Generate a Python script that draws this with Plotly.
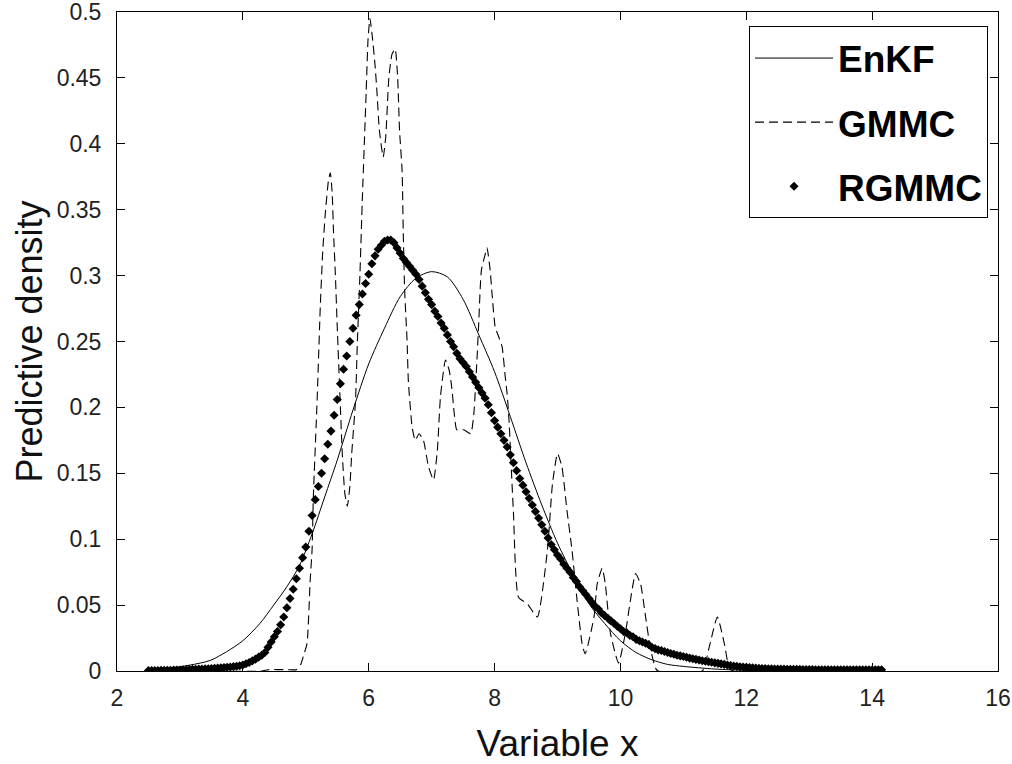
import numpy as np
import plotly.graph_objects as go

# ---------------- data ----------------
enkf_x = [2.5, 2.8, 3.16, 3.48, 3.74, 4.0, 4.27, 4.49, 4.7, 4.9, 5.1, 5.3, 5.5,
          5.75, 6.0, 6.25, 6.5, 6.75, 7.0, 7.25, 7.5, 7.75, 8.0, 8.25, 8.5,
          8.75, 9.0, 9.25, 9.5, 9.75, 10.0, 10.25, 10.5, 10.75, 11.0, 11.5,
          12.0, 12.5, 13.0]
enkf_y = [0.001, 0.002, 0.0045, 0.008, 0.0146, 0.023, 0.036, 0.050, 0.064,
          0.080, 0.104, 0.132, 0.160, 0.198, 0.233, 0.260, 0.284, 0.298,
          0.303, 0.299, 0.282, 0.255, 0.227, 0.193, 0.158, 0.126, 0.097,
          0.073, 0.051, 0.036, 0.023, 0.014, 0.0085, 0.005, 0.0035, 0.0015,
          0.0005, 0.0002, 0.0]

gmmc_x = [2.5, 4.3, 4.4, 4.7, 4.85, 4.92, 4.96, 5.02, 5.07, 5.10, 5.12, 5.18,
          5.23, 5.27, 5.31, 5.36, 5.39, 5.42, 5.44, 5.47, 5.50, 5.55, 5.58,
          5.62, 5.66, 5.70, 5.73, 5.79, 5.82, 5.86, 5.90, 5.93, 5.96, 5.99,
          6.02, 6.06, 6.10, 6.13, 6.17, 6.23, 6.27, 6.32, 6.37, 6.42, 6.46,
          6.49, 6.53, 6.55, 6.57, 6.61, 6.63, 6.69, 6.74, 6.80, 6.87, 6.95,
          7.03, 7.09, 7.14, 7.22, 7.28, 7.32, 7.36, 7.40, 7.51, 7.62, 7.67,
          7.72, 7.75, 7.79, 7.85, 7.88, 7.93, 7.96, 8.01, 8.07, 8.12, 8.17,
          8.20, 8.23, 8.25, 8.30, 8.38, 8.52, 8.68, 8.84, 8.92, 9.00, 9.07,
          9.15, 9.23, 9.31, 9.39, 9.44, 9.58, 9.63, 9.71, 9.76, 9.84, 9.97,
          10.08, 10.16, 10.24, 10.32, 10.40, 10.48, 10.56, 10.60, 11.30,
          11.41, 11.54, 11.65, 11.73, 11.80, 14.15]
gmmc_y = [0.0, 0.0, 0.001, 0.001, 0.001, 0.005, 0.011, 0.021, 0.069, 0.092,
          0.132, 0.205, 0.276, 0.319, 0.347, 0.372, 0.378, 0.362, 0.334,
          0.301, 0.261, 0.200, 0.165, 0.135, 0.125, 0.140, 0.165, 0.205,
          0.250, 0.300, 0.360, 0.400, 0.440, 0.480, 0.495, 0.480, 0.460,
          0.440, 0.410, 0.390, 0.405, 0.450, 0.468, 0.472, 0.450, 0.410,
          0.380, 0.330, 0.290, 0.250, 0.220, 0.185, 0.175, 0.180, 0.175,
          0.155, 0.145, 0.167, 0.208, 0.236, 0.228, 0.215, 0.195, 0.183,
          0.183, 0.180, 0.195, 0.236, 0.266, 0.304, 0.316, 0.321, 0.304,
          0.286, 0.261, 0.253, 0.246, 0.223, 0.210, 0.190, 0.170, 0.120,
          0.056, 0.051, 0.041, 0.092, 0.142, 0.165, 0.155, 0.122, 0.092,
          0.054, 0.021, 0.013, 0.041, 0.066, 0.078, 0.066, 0.029, 0.006,
          0.029, 0.054, 0.074, 0.066, 0.041, 0.016, 0.002, 0.0, 0.0, 0.018,
          0.041, 0.021, 0.002, 0.0, 0.0]

# RGMMC evaluated on a 0.05 grid from 2.50 to 14.15
rgmmc_x0, rgmmc_dx = 2.5, 0.05
rgmmc_y = [
    0.0003, 0.0003, 0.0004, 0.0004, 0.0005, 0.0005, 0.0006, 0.0006, 0.0007, 0.0007,
    0.0008, 0.0009, 0.0010, 0.0011, 0.0012, 0.0013, 0.0014, 0.0015, 0.0016, 0.0017,
    0.0018, 0.0020, 0.0022, 0.0024, 0.0026, 0.0028, 0.0030, 0.0033, 0.0036, 0.0040,
    0.0045, 0.0055, 0.0065, 0.0077, 0.0090, 0.0105, 0.0120, 0.0140, 0.0180, 0.0220,
    0.026, 0.030, 0.035, 0.041, 0.048, 0.055, 0.062, 0.070, 0.078, 0.086,
    0.094, 0.106, 0.118, 0.130, 0.140, 0.150, 0.161, 0.172, 0.182, 0.194,
    0.206, 0.218, 0.229, 0.239, 0.250, 0.260, 0.270, 0.278, 0.286, 0.294,
    0.301, 0.309, 0.315, 0.320, 0.323, 0.326, 0.327, 0.327, 0.325, 0.321,
    0.317, 0.313, 0.310, 0.307, 0.304, 0.301, 0.297, 0.292, 0.287, 0.282,
    0.278, 0.273, 0.269, 0.264, 0.260, 0.255, 0.250, 0.246, 0.241, 0.237,
    0.234, 0.231, 0.227, 0.223, 0.219, 0.215, 0.211, 0.207, 0.202, 0.196,
    0.190, 0.185, 0.180, 0.175, 0.170, 0.164, 0.158, 0.152, 0.146, 0.141,
    0.136, 0.131, 0.126, 0.121, 0.116, 0.111, 0.106, 0.101, 0.096, 0.092,
    0.088, 0.085, 0.081, 0.078, 0.075, 0.071, 0.068, 0.064, 0.061, 0.058,
    0.055, 0.052, 0.049, 0.047, 0.044, 0.042, 0.040, 0.038, 0.036, 0.034,
    0.032, 0.030, 0.029, 0.027, 0.026, 0.024, 0.023, 0.022, 0.021, 0.020,
    0.018, 0.017, 0.016, 0.0155, 0.0148, 0.014, 0.0133, 0.0127, 0.012, 0.0115,
    0.011, 0.0104, 0.0098, 0.0093, 0.0088, 0.0083, 0.0078, 0.0074, 0.0070, 0.0066,
    0.0062, 0.0058, 0.0054, 0.0050, 0.0046, 0.0042, 0.0038, 0.0035, 0.0032, 0.0030,
    0.0028, 0.0026, 0.0024, 0.0022, 0.0020, 0.0019, 0.0018, 0.0017, 0.0016, 0.0015,
    0.0015, 0.0014, 0.0014, 0.0013, 0.0013, 0.0012, 0.0012, 0.0012, 0.0011, 0.0011,
    0.0011, 0.0011, 0.0010, 0.0010, 0.0010, 0.0010, 0.0010, 0.0010, 0.0009, 0.0009,
    0.0009, 0.0009, 0.0009, 0.0009, 0.0009, 0.0009, 0.0009, 0.0009, 0.0009, 0.0009,
    0.0009, 0.0009, 0.0009, 0.0009,
]
rgmmc_x = [round(rgmmc_x0 + i * rgmmc_dx, 2) for i in range(len(rgmmc_y))]

series_names = ["EnKF", "GMMC", "RGMMC"]
x_ticks = [2, 4, 6, 8, 10, 12, 14, 16]
y_ticks = [0, 0.05, 0.1, 0.15, 0.2, 0.25, 0.3, 0.35, 0.4, 0.45, 0.5]
y_tick_text = ["0", "0.05", "0.1", "0.15", "0.2", "0.25", "0.3", "0.35", "0.4", "0.45", "0.5"]

FONT = "Liberation Sans, Arial, sans-serif"

# ---------------- figure ----------------
fig = go.Figure()
fig.add_trace(go.Scatter(
    x=enkf_x, y=enkf_y, mode="lines", name=series_names[0], legendgroup="a",
    line=dict(color="black", width=1, shape="spline", smoothing=0.8)))
fig.add_trace(go.Scatter(
    x=gmmc_x, y=gmmc_y, mode="lines", name=series_names[1], legendgroup="b",
    line=dict(color="black", width=1.1, dash="9px,5px", shape="spline", smoothing=0.5)))
fig.add_trace(go.Scatter(
    x=rgmmc_x, y=rgmmc_y, mode="markers", name=series_names[2], legendgroup="c",
    marker=dict(symbol="diamond", size=7, color="black",
                line=dict(width=0))))

axis_common = dict(
    showline=True, linecolor="black", linewidth=1, mirror="ticks",
    ticks="inside", ticklen=8, tickcolor="black", tickwidth=1,
    showgrid=False, zeroline=False, automargin=False,
    ticklabeloverflow="allow",
    tickfont=dict(family=FONT, size=23, color="#222"),
)

fig.update_xaxes(range=[2, 16], tickvals=x_ticks, ticklabelstandoff=6,
                 title=dict(text="Variable x", standoff=24,
                            font=dict(family=FONT, size=37, color="#111")),
                 **axis_common)
fig.update_yaxes(range=[0, 0.5], tickvals=y_ticks, ticktext=y_tick_text,
                 ticklabelstandoff=10,
                 title=dict(text="Predictive density", standoff=3,
                            font=dict(family=FONT, size=36, color="#111")),
                 **axis_common)

fig.update_layout(
    width=1012, height=764,
    margin=dict(l=117, r=14, t=12, b=93, autoexpand=False),
    paper_bgcolor="white", plot_bgcolor="white",
    showlegend=True,
    legend=dict(
        x=0.9887, y=0.978, xanchor="right", yanchor="top",
        bgcolor="white", bordercolor="black", borderwidth=1,
        font=dict(family=FONT, size=37, color="black", weight="bold"),
        tracegroupgap=13, itemwidth=78,
    ),
)

# the page body gets no default margin, so the figure fills the 1012x764 window exactly
fig.write_html("out.html", config={"displayModeBar": False},
               post_script="document.body.style.margin='0';")
